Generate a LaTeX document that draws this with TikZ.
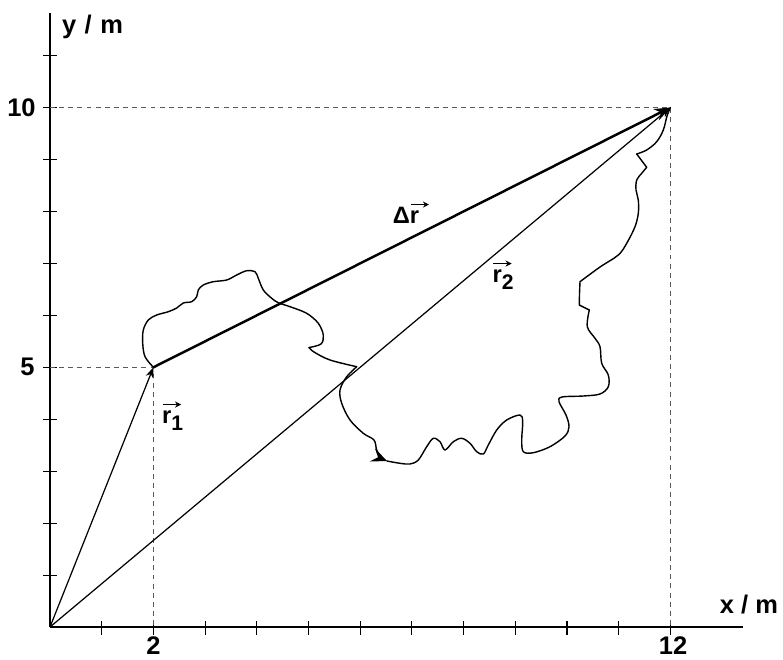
\documentclass[tikz,border=0pt]{standalone}
\usepackage{fontspec}
\setmainfont{Liberation Sans}
\usetikzlibrary{arrows.meta}
\newcommand{\arrowed}[1]{\rlap{\raisebox{10.5pt}{\tikz[baseline=0pt]\draw[line width=0.8pt,-{Stealth[length=3.5pt,width=3.5pt]}] (0pt,0pt) -- (10.5pt,0pt);}}#1}
\newcommand{\subdigit}[1]{\raisebox{-4pt}{\fontsize{12}{12}\selectfont #1}}
\begin{document}
\begin{tikzpicture}[x=0.02cm,y=-0.02cm,
  axis/.style={line width=0.8pt},
  tickmark/.style={line width=0.6pt},
  guide/.style={dash pattern=on 2.8pt off 2.4pt, line width=0.45pt, black!65},
  vec/.style={line width=0.7pt, -{Stealth[length=6pt,width=4.5pt]}},
  disp/.style={line width=1.4pt, -{Stealth[length=9pt,width=7pt]}},
  wig/.style={line width=0.8pt, line join=round, line cap=round},
  lbl/.style={font=\bfseries\fontsize{14.5}{16}\selectfont, inner sep=0pt},
  vlbl/.style={font=\bfseries\fontsize{13.5}{15}\selectfont, inner sep=0pt},
]
\useasboundingbox (0,0) rectangle (783,659);
% key points
\coordinate (O) at (50,627);
\coordinate (P1) at (153.4,367.3);
\coordinate (P2) at (670.4,107.5);
\coordinate (Ytop) at (50,13);
\coordinate (Xend) at (743,627);
\coordinate (Y10) at (50,107.5);
\coordinate (Y5) at (50,367.3);
\coordinate (X2) at (153.4,627);
\coordinate (X12) at (670.4,627);
\coordinate (M) at (387,461);
% axes
\draw[axis] (O) -- (Ytop);
\draw[axis] (O) -- (Xend);
\foreach \i in {1,...,12} \draw[tickmark] (50+51.7*\i,621) -- (50+51.7*\i,635);
\foreach \j in {1,...,11} \draw[tickmark] (43,627-51.95*\j) -- (57,627-51.95*\j);
% guides
\draw[guide] (Y10) -- (P2) -- (X12);
\draw[guide] (Y5) -- (P1) -- (X2);
% labels
\node[lbl, anchor=base] (ylab) at (92.5,33) {y\,\,/\,\,m};
\node[lbl, anchor=base] (xlab) at (749,613) {x / m};
\node[lbl, anchor=east] (l10) at (36,107.5) {10};
\node[lbl, anchor=east] (l5) at (35,367.3) {5};
\node[lbl, anchor=base] (l2) at (153.4,654) {2};
\node[lbl, anchor=base] (l12) at (673,654) {12};
% vectors
\draw[vec] (O) -- (P1);
\draw[vec] (O) -- (P2);
\draw[disp] (P1) -- (P2);
\node[vlbl, anchor=base] (dr) at (406,223) {Δ\arrowed{r}};
\node[vlbl, anchor=base] (r1) at (172.5,423) {\arrowed{r}\subdigit{1}};
\node[vlbl, anchor=base] (r2) at (503,282) {\arrowed{r}\subdigit{2}};
% path of the body
\draw[wig] plot[smooth, tension=0.55] coordinates {(P1) (145,356.7) (142.7,343) (143.3,330) (148.3,320) (156.7,315) (168.3,311.7) (176.7,308) (183.3,303) (191.7,301.7) (196.7,296.7) (198.3,290) (203.3,285) (213.3,281.7) (226.7,280) (236.7,275) (246.7,270.7) (255,271.7) (258.3,278.3) (263.3,290) (271.7,298.3) (278.3,302.7) (290,306.7) (306.7,313.3) (318.3,323.3) (323.3,335) (321,344) (309,347.5)};
\draw[wig] plot[smooth, tension=0.55] coordinates {(309,347.5) (314,352) (330,360) (356.7,366.7)};
\draw[wig, -{Stealth[length=9pt,width=8pt,inset=3.5pt]}] plot[smooth, tension=0.55] coordinates {(356.7,366.7) (346.7,376.7) (340,390) (341.7,403.3) (350,420) (363.3,433.3) (374,440) (376.7,450) (381,457.5) (M)};
\draw[wig] plot[smooth, tension=0.55] coordinates {(M) (400,463.3) (410,464) (418.3,460) (426.7,446.7) (433.3,438.3) (440,441.7) (445,450) (453.3,441.7) (461.7,438.3) (470,443.3) (476.7,451.7) (483.3,454) (488.3,445) (496.7,430) (506.7,420) (520,415) (522.7,421.7) (521.7,440) (523.3,451.7) (533.3,452.7) (550,446.7) (565,436) (569,426.7) (566,415) (559,401.7) (562,397) (583.3,396) (600,394) (608.3,386.7) (608.3,375) (601.7,363.3) (600,346.7) (595,338.3) (587.3,326.7) (589.3,310)};
\draw[wig] (589.3,310) -- (579.3,305) -- (579.5,293.3) -- (580,281.7);
\draw[wig] plot[smooth, tension=0.55] coordinates {(580,281.7) (600,267) (618.3,255) (626.7,243.3) (635,226.7) (638.3,213.3) (638.3,200) (636,190) (636.7,180) (641.7,173.3) (646.7,167.3)};
\draw[wig] (646.7,167.3) -- (636.7,154);
\draw[wig] plot[smooth, tension=0.55] coordinates {(636.7,154) (646.7,150) (656.7,141.7) (663.3,130) (667,116) (P2)};
\end{tikzpicture}
\end{document}
